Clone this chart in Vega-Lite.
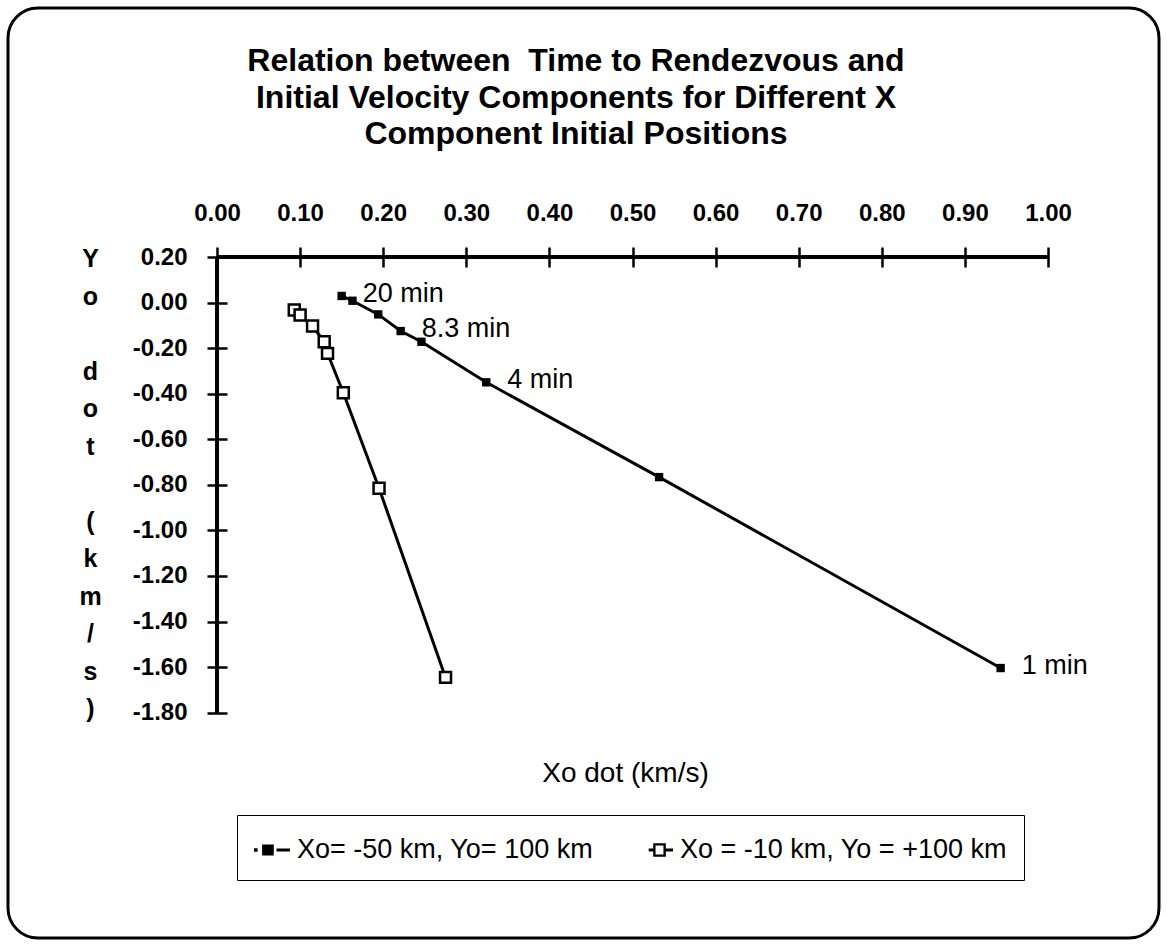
{
  "$schema": "https://vega.github.io/schema/vega-lite/v6.json",
  "width": 1151,
  "height": 930,
  "autosize": {"type": "none"},
  "padding": {"left": 8, "top": 8, "right": 8, "bottom": 7},
  "background": "white",
  "config": {
    "font": "Liberation Sans",
    "view": {"stroke": "black", "strokeWidth": 3, "cornerRadius": 30, "fill": "white"},
    "locale": {"number": {"decimal": ".", "thousands": ",", "grouping": [3], "currency": ["$", ""], "minus": "-"}},
    "axis": {"grid": false, "domainColor": "black", "tickColor": "black", "labelColor": "black", "titleColor": "black"},
    "legend": {"labelColor": "black"}
  },
  "title": {
    "text": ["Relation between\u00a0 Time to Rendezvous and", "Initial Velocity Components for Different X", "Component Initial Positions"],
    "fontSize": 32,
    "fontWeight": "bold",
    "lineHeight": 36.5,
    "anchor": "middle",
    "frame": "group",
    "offset": -143,
    "dx": -7.5,
    "color": "black",
    "font": "Liberation Sans"
  },
  "data": {
    "values": [
      {"series": "Xo= -50 km, Yo= 100 km", "x": 0.150, "y": 0.029, "label": "20 min"},
      {"series": "Xo= -50 km, Yo= 100 km", "x": 0.163, "y": 0.008, "label": ""},
      {"series": "Xo= -50 km, Yo= 100 km", "x": 0.194, "y": -0.052, "label": ""},
      {"series": "Xo= -50 km, Yo= 100 km", "x": 0.221, "y": -0.125, "label": "8.3 min"},
      {"series": "Xo= -50 km, Yo= 100 km", "x": 0.246, "y": -0.172, "label": ""},
      {"series": "Xo= -50 km, Yo= 100 km", "x": 0.324, "y": -0.350, "label": "4 min"},
      {"series": "Xo= -50 km, Yo= 100 km", "x": 0.532, "y": -0.766, "label": ""},
      {"series": "Xo= -50 km, Yo= 100 km", "x": 0.943, "y": -1.604, "label": "1 min"},
      {"series": "Xo = -10 km, Yo = +100 km", "x": 0.093, "y": -0.033, "label": ""},
      {"series": "Xo = -10 km, Yo = +100 km", "x": 0.100, "y": -0.055, "label": ""},
      {"series": "Xo = -10 km, Yo = +100 km", "x": 0.115, "y": -0.103, "label": ""},
      {"series": "Xo = -10 km, Yo = +100 km", "x": 0.129, "y": -0.172, "label": ""},
      {"series": "Xo = -10 km, Yo = +100 km", "x": 0.133, "y": -0.223, "label": ""},
      {"series": "Xo = -10 km, Yo = +100 km", "x": 0.152, "y": -0.396, "label": ""},
      {"series": "Xo = -10 km, Yo = +100 km", "x": 0.195, "y": -0.815, "label": ""},
      {"series": "Xo = -10 km, Yo = +100 km", "x": 0.275, "y": -1.645, "label": ""}
    ]
  },
  "layer": [
    {
      "mark": {"type": "rule", "color": "black", "strokeWidth": 2.5},
      "encoding": {
        "x": {"datum": 0, "type": "quantitative"},
        "x2": {"datum": 1},
        "y": {"datum": 0.2, "type": "quantitative"}
      }
    },
    {
      "mark": {"type": "rule", "color": "black", "strokeWidth": 2.5},
      "encoding": {
        "x": {"datum": 0, "type": "quantitative"},
        "y": {"datum": -1.8, "type": "quantitative"},
        "y2": {"datum": 0.2}
      }
    },
    {
      "mark": {"type": "line", "color": "black", "strokeWidth": 3},
      "encoding": {
        "x": {
          "field": "x", "type": "quantitative",
          "scale": {"domain": [0, 1], "range": [209, 1040], "nice": false, "zero": false},
          "axis": {
            "orient": "top", "offset": -259,
            "values": [0, 0.1, 0.2, 0.3, 0.4, 0.5, 0.6, 0.7, 0.8, 0.9, 1.0],
            "format": ".2f",
            "domain": false,
            "title": "Xo dot (km/s)",
            "titleX": 617, "titleY": 506, "titleAngle": 0, "titleAlign": "center", "titleBaseline": "middle",
            "titleFontSize": 28, "titleFontWeight": "normal",
            "labelFontSize": 24, "labelFontWeight": "bold", "labelPadding": 22,
            "labelFlush": false, "labelOverlap": false,
            "tickSize": 20, "tickWidth": 2.5
          }
        },
        "y": {
          "field": "y", "type": "quantitative",
          "scale": {"domain": [-1.8, 0.2], "range": [704.7, 249], "nice": false, "zero": false},
          "axis": {
            "orient": "left", "offset": -219,
            "values": [-1.8, -1.6, -1.4, -1.2, -1.0, -0.8, -0.6, -0.4, -0.2, 0, 0.2],
            "format": ".2f",
            "domain": false,
            "title": ["Y", "o", "\u200b", "d", "o", "t", "\u200b", "(", "k", "m", "/", "s", ")"],
            "titleX": -137, "titleY": 258.5, "titleAngle": 0, "titleAlign": "center", "titleBaseline": "alphabetic",
            "titleLineHeight": 37.5, "titleFontSize": 25, "titleFontWeight": "bold",
            "labelFontSize": 24, "labelFontWeight": "bold", "labelPadding": 20,
            "labelFlush": false, "labelOverlap": false,
            "tickSize": 20, "tickWidth": 2.5
          }
        },
        "detail": {"field": "series", "type": "nominal"}
      }
    },
    {
      "transform": [{"filter": "datum.series == 'Xo= -50 km, Yo= 100 km'"}],
      "mark": {"type": "point", "shape": "square", "filled": true, "color": "black", "size": 70, "opacity": 1},
      "encoding": {
        "x": {"field": "x", "type": "quantitative"},
        "y": {"field": "y", "type": "quantitative"}
      }
    },
    {
      "transform": [{"filter": "datum.series == 'Xo = -10 km, Yo = +100 km'"}],
      "mark": {"type": "point", "shape": "square", "filled": true, "fill": "white", "stroke": "black", "strokeWidth": 2.5, "size": 120, "opacity": 1},
      "encoding": {
        "x": {"field": "x", "type": "quantitative"},
        "y": {"field": "y", "type": "quantitative"}
      }
    },
    {
      "transform": [{"filter": "datum.label != ''"}],
      "mark": {"type": "text", "align": "left", "baseline": "middle", "dx": 21, "dy": -2, "fontSize": 27, "color": "black"},
      "encoding": {
        "x": {"field": "x", "type": "quantitative"},
        "y": {"field": "y", "type": "quantitative"},
        "text": {"field": "label", "type": "nominal"}
      }
    },
    {
      "mark": {"type": "point", "filled": true, "color": "black", "opacity": 0},
      "encoding": {
        "x": {"field": "x", "type": "quantitative"},
        "y": {"field": "y", "type": "quantitative"},
        "shape": {
          "field": "series", "type": "nominal",
          "scale": {
            "domain": ["Xo= -50 km, Yo= 100 km", "Xo = -10 km, Yo = +100 km"],
            "range": [
              "M-1,-0.1H-0.8V0.1H-1Z M-0.55,-0.3H0.1V0.3H-0.55Z M0.25,-0.08H1V0.08H0.25Z",
              "M-0.35,-0.08H-0.1V0.08H-0.35Z M-0.1,-0.38H0.6V0.38H-0.1Z M0.03,-0.25V0.25H0.47V-0.25Z M0.6,-0.08H1V0.08H0.6Z"
            ]
          },
          "legend": {
            "title": null,
            "orient": "none",
            "legendX": 229,
            "legendY": 807,
            "direction": "horizontal",
            "columns": 2,
            "columnPadding": 43,
            "padding": 17,
            "strokeColor": "black",
            "symbolSize": 1296,
            "symbolStrokeWidth": 0,
            "labelFontSize": 27,
            "labelOffset": 7,
            "labelLimit": 500,
            "labelFont": "Liberation Sans",
            "encode": {
              "symbols": {"update": {"opacity": {"value": 1}, "fill": {"value": "black"}}},
              "legend": {"update": {"strokeWidth": {"value": 2.5}}}
            }
          }
        }
      }
    }
  ]
}
